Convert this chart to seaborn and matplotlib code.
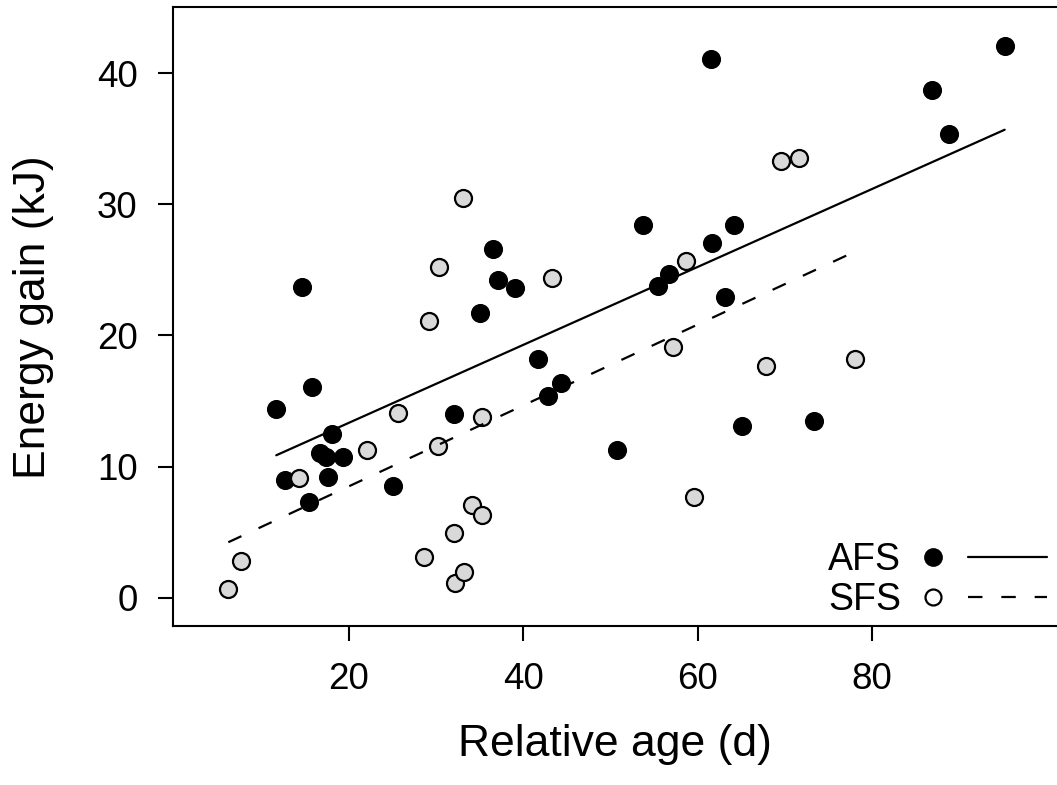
import seaborn as sns
import matplotlib.pyplot as plt
from matplotlib.lines import Line2D
from matplotlib.legend_handler import HandlerTuple

# AFS group (black dots)
afs_age = [11.7, 12.7, 14.6, 15.5, 15.8, 16.7, 17.4, 17.6, 18.1, 19.4, 25.1,
           32.1, 35.0, 36.6, 37.1, 39.1, 41.7, 42.8, 44.3, 50.8, 53.7, 55.5,
           56.7, 61.5, 61.7, 63.1, 64.2, 65.1, 73.4, 86.9, 88.8, 95.2]
afs_energy = [14.4, 9.0, 23.7, 7.3, 16.1, 11.0, 10.7, 9.2, 12.5, 10.75, 8.55,
              14.0, 21.7, 26.6, 24.2, 23.6, 18.2, 15.4, 16.35, 11.25, 28.4, 23.8,
              24.7, 41.1, 27.05, 22.9, 28.4, 13.1, 13.5, 38.7, 35.4, 42.1]

# SFS group (grey dots)
sfs_age = [6.2, 7.6, 14.3, 22.1, 25.7, 28.6, 29.2, 30.2, 30.3, 32.1, 32.2,
           33.1, 33.2, 34.1, 35.25, 35.3, 43.3, 57.2, 58.7, 59.6, 67.8, 69.6,
           71.65, 78.0]
sfs_energy = [0.7, 2.8, 9.1, 11.25, 14.1, 3.1, 21.1, 11.6, 25.2, 4.9, 1.1,
              30.5, 1.95, 7.05, 6.3, 13.8, 24.4, 19.15, 25.7, 7.7, 17.7, 33.3,
              33.5, 18.2]

group_names = ['AFS', 'SFS']
xticks = [20, 40, 60, 80]
yticks = [0, 10, 20, 30, 40]

sns.set_style('ticks')
plt.rcParams['font.family'] = ['Liberation Sans', 'DejaVu Sans']
plt.rcParams['text.color'] = 'black'
plt.rcParams['axes.labelcolor'] = 'black'

fig = plt.figure(figsize=(10.57, 7.85), dpi=100)
ax = fig.add_axes([0.164, 0.2022, 0.836, 0.7885])

dash = (0, (6.5, 8.5))

sns.regplot(x=afs_age, y=afs_energy, ax=ax, ci=None, truncate=True,
            scatter_kws=dict(s=150, color='black', edgecolor='black',
                             linewidths=1.5, alpha=1, zorder=3),
            line_kws=dict(color='black', lw=1.6, zorder=4))
sns.regplot(x=sfs_age, y=sfs_energy, ax=ax, ci=None, truncate=True,
            scatter_kws=dict(s=150, color='#d9d9d9', edgecolor='black',
                             linewidths=1.6, alpha=1, zorder=3),
            line_kws=dict(color='black', lw=1.6, linestyle=dash, zorder=4))

ax.set_xlim(-0.1, 101.2)
ax.set_ylim(-2.18, 45.03)
ax.set_xticks(xticks)
ax.set_yticks(yticks)
ax.tick_params(length=10.8, width=1.5, pad=15, labelsize=26.5,
               colors='black', labelcolor='black')
ax.spines['right'].set_visible(False)
for s in ['left', 'bottom', 'top']:
    ax.spines[s].set_linewidth(1.5)
    ax.spines[s].set_color('black')

ax.set_xlabel('Relative age (d)', fontsize=32, color='black')
ax.set_ylabel('Energy gain (kJ)', fontsize=32, color='black')
ax.xaxis.set_label_coords(0.5, -0.158)
ax.yaxis.set_label_coords(-0.135, 0.5)

# legend: label, dot, line
afs_pt = Line2D([], [], ls='none', marker='o', ms=12, mfc='black', mec='black', mew=1.5)
afs_ln = Line2D([], [], color='black', lw=1.6)
sfs_pt = Line2D([], [], ls='none', marker='o', ms=11.5, mfc='white', mec='black', mew=1.6)
sfs_ln = Line2D([], [], color='black', lw=1.6, linestyle=dash)
leg = ax.legend([(afs_pt, afs_ln), (sfs_pt, sfs_ln)], group_names,
                handler_map={tuple: HandlerTuple(ndivide=None, pad=-0.13)},
                loc='lower right', bbox_to_anchor=(0.9887, 0.013),
                frameon=False, markerfirst=False, fontsize=27,
                handlelength=4.08, handletextpad=-0.19, labelspacing=0.1,
                borderpad=0, borderaxespad=0)
for t in leg.get_texts():
    t.set_color('black')

fig.savefig('out.png', dpi=100)
